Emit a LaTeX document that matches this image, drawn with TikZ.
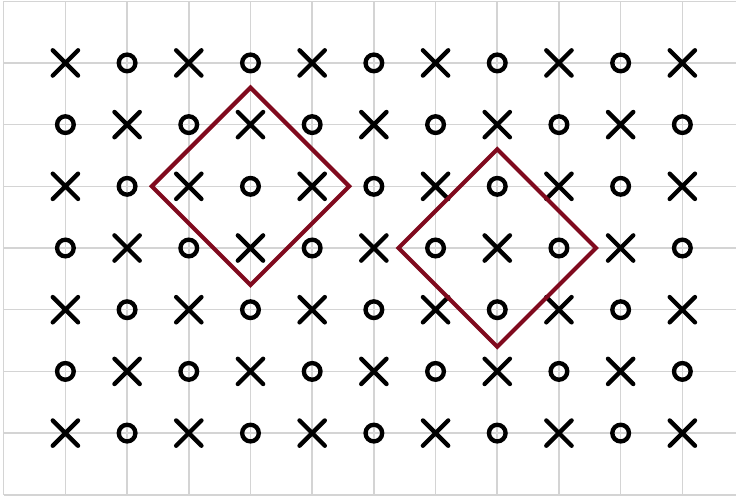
\documentclass[tikz,border=0pt]{standalone}
\usepackage{xcolor}
\usepackage{tikz}
\usetikzlibrary{shapes.misc,calc}
\definecolor{gridgray}{RGB}{212,212,212}
\definecolor{framered}{RGB}{128,10,30}
\tikzset{
  gridline/.style = {draw=gridgray, line width=0.7pt},
  xmark/.style    = {cross out, draw=black, line width=2pt, minimum size=0.34cm, inner sep=0pt, line cap=round},
  omark/.style    = {circle, draw=black, line width=2pt, minimum size=0.27cm, inner sep=0pt},
  frame/.style    = {draw=framered, line width=1.9pt, line join=miter},
}

\begin{document}
\begin{tikzpicture}
  \useasboundingbox (-0.06,-0.02) rectangle (11.87,8.02);
  \draw[gridline] (0,0) grid (12,8);
  \foreach \i in {1,...,11} {
    \foreach \j in {1,...,7} {
      \pgfmathtruncatemacro{\parity}{mod(\i+\j,2)}
      \ifnum\parity=0
        \node[xmark] (m-\i-\j) at (\i,\j) {};
      \else
        \node[omark] (m-\i-\j) at (\i,\j) {};
      \fi
    }
  }
  \coordinate (cl) at (4,5);
  \coordinate (cr) at (8,4);
  \draw[frame] ($(cl)+(-1.6,0)$) -- ($(cl)+(0,1.6)$) -- ($(cl)+(1.6,0)$) -- ($(cl)+(0,-1.6)$) -- cycle;
  \draw[frame] ($(cr)+(-1.6,0)$) -- ($(cr)+(0,1.6)$) -- ($(cr)+(1.6,0)$) -- ($(cr)+(0,-1.6)$) -- cycle;
\end{tikzpicture}
\end{document}
